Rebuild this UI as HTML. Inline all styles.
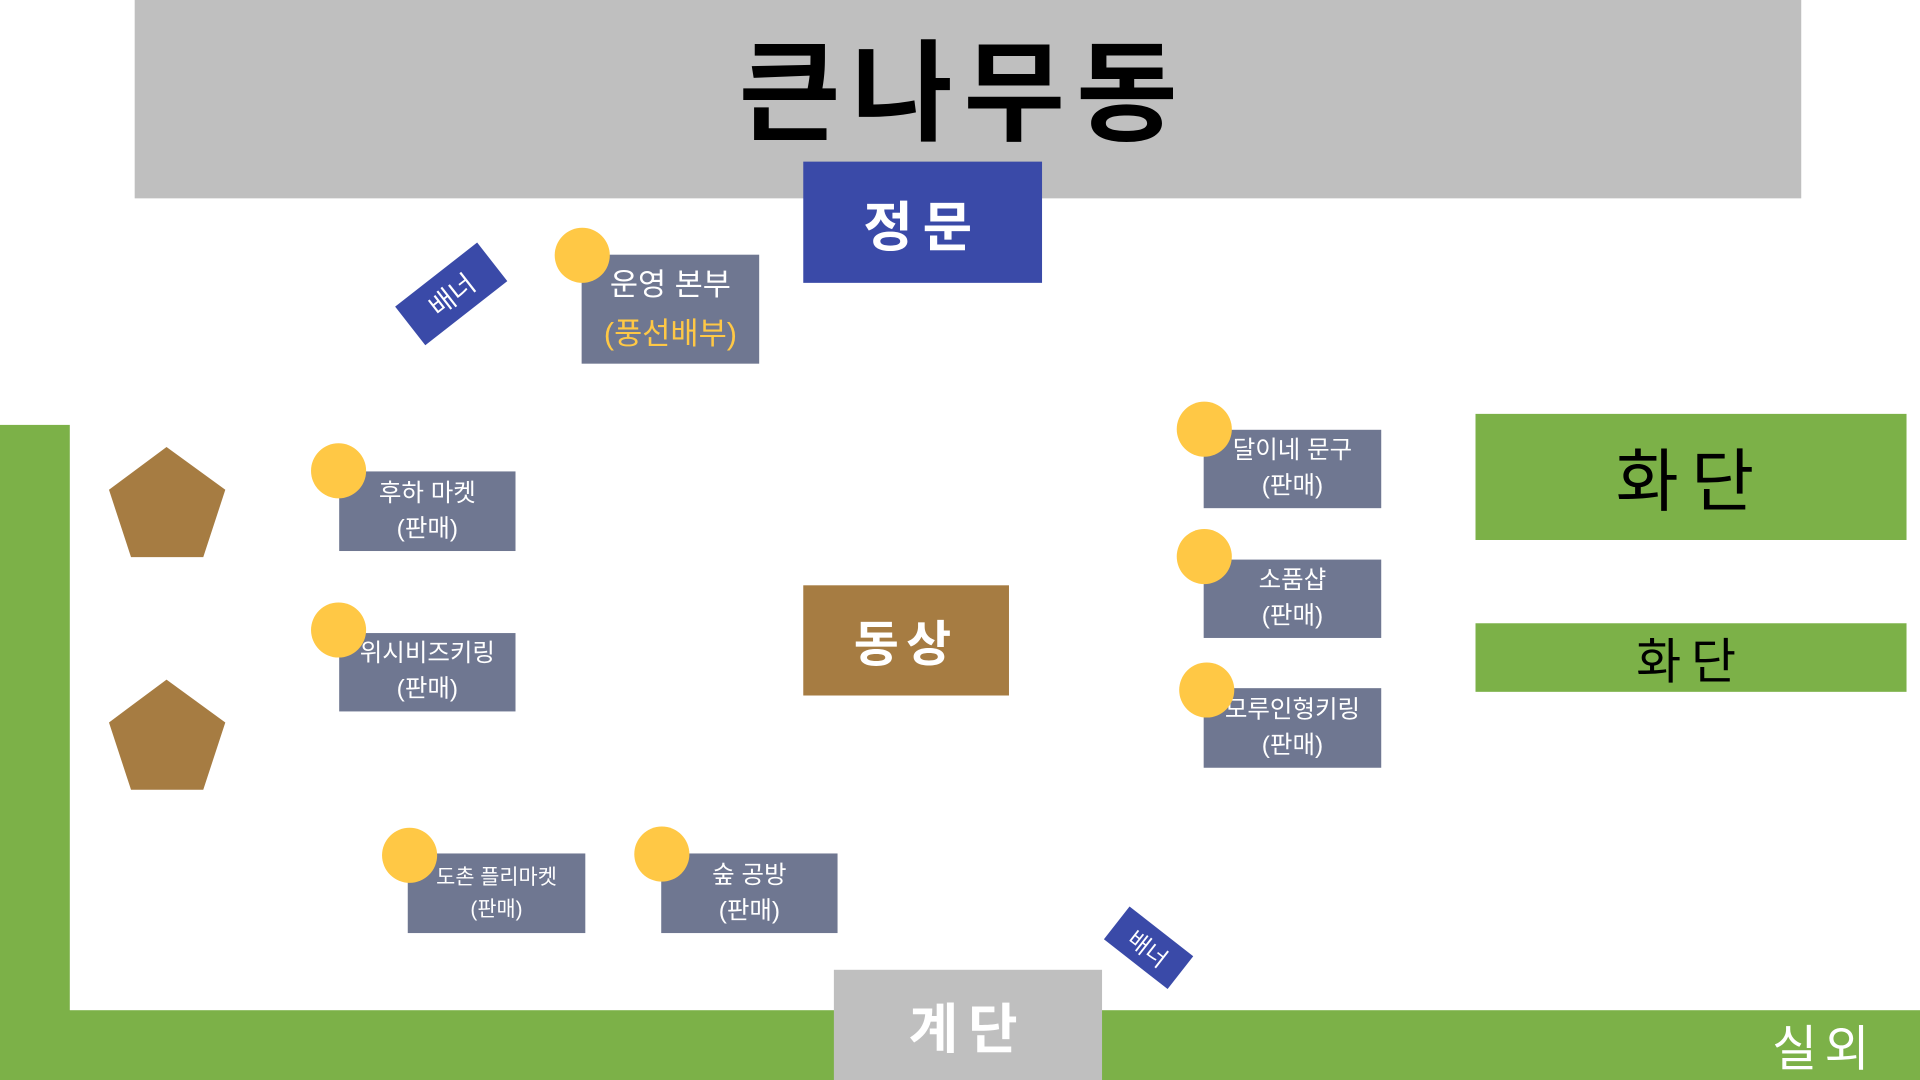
<!DOCTYPE html>
<html><head><meta charset="utf-8"><style>
html,body{margin:0;padding:0;background:#fff;overflow:hidden;width:1920px;height:1080px}
#s{position:absolute;left:0;top:0;width:1568px;height:882px;transform:scale(1.22449);transform-origin:0 0;font-family:"Liberation Sans","Noto Sans CJK KR",sans-serif}
#s div{position:absolute;box-sizing:border-box}
.c{display:flex;align-items:center;justify-content:center;text-align:center}
.g{background:#6f7791;color:#fff;font-size:20px;line-height:29px;flex-direction:column}
.dot{width:45px;height:45px;border-radius:50%;background:#ffc845}
.gr{background:#7cb148}
</style></head><body><div id="s">
<div class="c" style="left:110px;top:0;width:1361px;height:162px;background:#bfbfbf"></div>
<div class="c" style="left:560px;top:14px;width:454px;height:110px;font-size:90px;font-weight:bold;letter-spacing:9px;color:#000">큰나무동</div>
<div class="c" style="left:656px;top:132px;width:195px;height:99px;background:#3a4aa8;color:#fff;font-size:44px;font-weight:bold;letter-spacing:8px">정문</div>
<div class="gr" style="left:0;top:347px;width:57px;height:535px"></div>
<div class="gr" style="left:0;top:825px;width:1568px;height:57px"></div>
<div class="c" style="left:681px;top:792px;width:219px;height:90px;background:#bfbfbf;color:#fff;font-size:44px;font-weight:bold;letter-spacing:8px">계단</div>
<div class="c" style="left:1440px;top:826px;width:100px;height:54px;color:#fff;font-size:40px;letter-spacing:6px">실외</div>
<div class="c gr" style="left:1205px;top:338px;width:352px;height:103px;font-size:56px;letter-spacing:10px;color:#000">화단</div>
<div class="c gr" style="left:1205px;top:509px;width:352px;height:56px;font-size:40px;letter-spacing:8px;color:#000">화단</div>
<div class="c" style="left:656px;top:478px;width:168px;height:90px;background:#a67c42;color:#fff;font-size:40px;font-weight:bold;letter-spacing:6px">동상</div>
<svg style="position:absolute;left:0;top:0" width="1568" height="882"><polygon points="136,365 184,400 166,455 107,455 89,400" fill="#a67c42"/><polygon points="136,555 184,590 166,645 107,645 89,590" fill="#a67c42"/></svg>
<div class="c" style="left:326px;top:220px;width:85px;height:40px;background:#3a4aa8;color:#fff;font-size:22px;transform:rotate(-38deg)">배너</div>
<div class="c" style="left:905px;top:757px;width:66px;height:34px;background:#3a4aa8;color:#fff;font-size:19px;transform:rotate(38deg)">배너</div>
<div class="c g" style="left:475px;top:208px;width:145px;height:89px;font-size:25px;line-height:40px"><span>운영 본부</span><span style="color:#ffc845">(풍선배부)</span></div>
<div class="dot" style="left:453px;top:186px"></div>
<div class="c g" style="left:277px;top:385px;width:144px;height:65px"><span>후하 마켓</span><span>(판매)</span></div>
<div class="dot" style="left:254px;top:362px"></div>
<div class="c g" style="left:277px;top:517px;width:144px;height:64px"><span>위시비즈키링</span><span>(판매)</span></div>
<div class="dot" style="left:254px;top:492px"></div>
<div class="c g" style="left:983px;top:351px;width:145px;height:64px"><span>달이네 문구</span><span>(판매)</span></div>
<div class="dot" style="left:961px;top:328px"></div>
<div class="c g" style="left:983px;top:457px;width:145px;height:64px"><span>소품샵</span><span>(판매)</span></div>
<div class="dot" style="left:961px;top:432px"></div>
<div class="c g" style="left:983px;top:562px;width:145px;height:65px"><span>모루인형키링</span><span>(판매)</span></div>
<div class="dot" style="left:963px;top:541px"></div>
<div class="c g" style="left:333px;top:697px;width:145px;height:65px;font-size:17px;line-height:26px"><span>도촌 플리마켓</span><span>(판매)</span></div>
<div class="dot" style="left:312px;top:676px"></div>
<div class="c g" style="left:540px;top:697px;width:144px;height:65px"><span>숲 공방</span><span>(판매)</span></div>
<div class="dot" style="left:518px;top:675px"></div>
</div></body></html>
